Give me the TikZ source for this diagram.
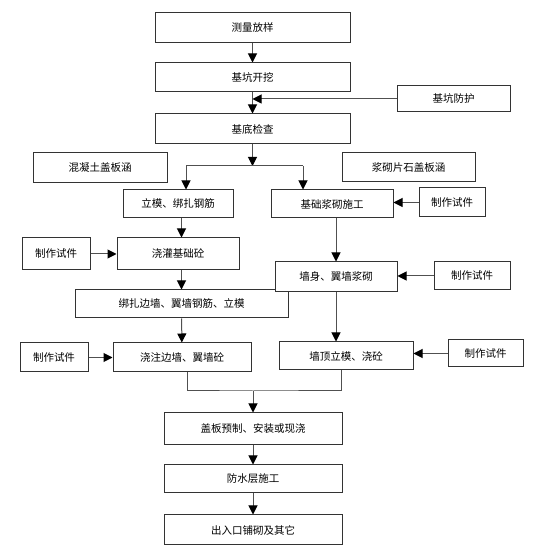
\documentclass[tikz,border=0pt]{standalone}
\usepackage{fontspec}
\setmainfont{Noto Sans CJK SC}
\usetikzlibrary{arrows.meta,positioning}
\definecolor{ink}{HTML}{000000}
\definecolor{frame}{HTML}{333333}
\definecolor{wire}{HTML}{505050}

\begin{document}
\begin{tikzpicture}[x=1pt,y=-1pt,font=\fontsize{10.5}{11}\selectfont,
  box/.style={draw=frame,line width=1pt,fill=white,inner sep=0pt,align=center,text=ink},
  flow/.style={-{Triangle[length=9pt,width=9pt,color=black]},line width=1pt,wire},
  seg/.style={-,line width=1pt,wire}]
\useasboundingbox[fill=white] (0,0) rectangle (555,553);
% main chain
\node[box,minimum width=195,minimum height=30] (survey) at (252.5,28) {测量放样};
\node[box,minimum width=195,minimum height=29] (excav) at (252.5,77.5) {基坑开挖};
\node[box,minimum width=195,minimum height=30] (inspect) at (252.5,129) {基底检查};
\node[box,minimum width=113,minimum height=26] (protect) at (453.5,99) {基坑防护};
% culvert types
\node[box,minimum width=134,minimum height=30] (concrete) at (100,168) {混凝土盖板涵};
\node[box,minimum width=133,minimum height=29] (stone) at (408.5,167.5) {浆砌片石盖板涵};
% left branch
\node[box,minimum width=110,minimum height=28] (formrebar) at (178,204) {立模、绑扎钢筋};
\node[box,minimum width=122,minimum height=32] (pour) at (178,254) {浇灌基础砼};
\node[box,minimum width=68,minimum height=32] (specla) at (56,254) {制作试件};
\node[box,minimum width=213,minimum height=28] (tie) at (181.5,304) {绑扎边墙、翼墙钢筋、立模};
\node[box,minimum width=138,minimum height=29] (wallpour) at (182,357.5) {浇注边墙、翼墙砼};
\node[box,minimum width=68,minimum height=29] (speclb) at (54,357.5) {制作试件};
% right branch
\node[box,minimum width=122,minimum height=28] (footing) at (332,204) {基础浆砌施工};
\node[box,minimum width=66,minimum height=29] (specra) at (452,202.5) {制作试件};
\node[box,minimum width=122,minimum height=30] (masonry) at (336,277) {墙身、翼墙浆砌};
\node[box,minimum width=76,minimum height=28] (specrb) at (472,276) {制作试件};
\node[box,minimum width=134,minimum height=28] (cap) at (346,356) {墙顶立模、浇砼};
\node[box,minimum width=75,minimum height=27] (specrc) at (485.5,353.5) {制作试件};
% finishing
\node[box,minimum width=178,minimum height=32] (slab) at (253,429) {盖板预制、安装或现浇};
\node[box,minimum width=178,minimum height=28] (water) at (253,479) {防水层施工};
\node[box,minimum width=178,minimum height=30] (exit) at (253,530) {出入口铺砌及其它};
% helper points
\coordinate (split) at (252.5,166);
\coordinate (bl) at (186,166);
\coordinate (br) at (303,166);
\coordinate (join) at (253,391);
% connectors
\draw[flow] (survey) -- (excav);
\draw[flow] (excav) -- (inspect);
\draw[flow] (protect.west) -- (protect.west -| inspect.north);
\draw[flow] (inspect) -- (split);
\draw[seg] (bl) -- (br);
\draw[flow] (bl) -- (bl |- formrebar.north);
\draw[flow] (br) -- (br |- footing.north);
\draw[flow] (formrebar.south -| tie.south) -- (pour.north -| tie.south);
\draw[flow] (specla) -- (pour);
\draw[flow] (pour.south -| tie.north) -- (tie.north);
\draw[flow] (tie) -- (wallpour);
\draw[flow] (speclb) -- (wallpour);
\draw[flow] (specra.west) -- (specra.west -| footing.east);
\draw[flow] (footing.south -| masonry.north) -- (masonry.north);
\draw[flow] (specrb.west) -- (specrb.west -| masonry.east);
\draw[flow] (masonry.south) -- (masonry.south |- cap.north);
\draw[flow] (specrc.west) -- (specrc.west -| cap.east);
\draw[seg] ([xshift=5]wallpour.south) |- (join) -| ([xshift=-5]cap.south);
\draw[flow] (join) -- (slab);
\draw[flow] (slab) -- (water);
\draw[flow] (water) -- (exit);
\end{tikzpicture}
\end{document}
